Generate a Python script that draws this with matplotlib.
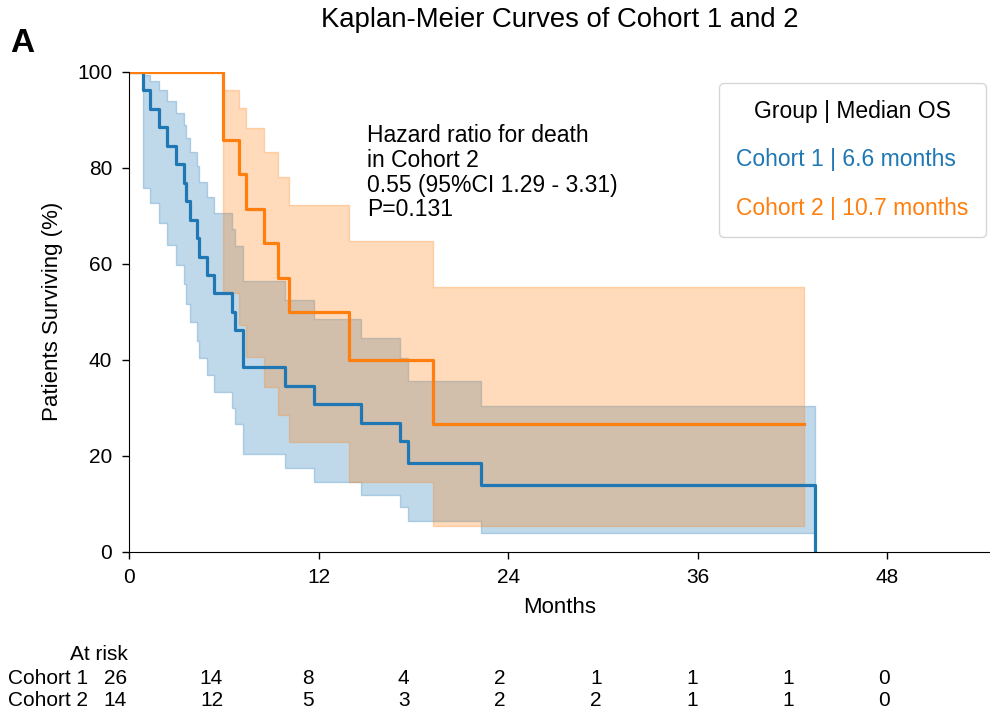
import matplotlib
matplotlib.use("Agg")
import matplotlib.pyplot as plt

plt.rcParams['font.family'] = ['Liberation Sans', 'DejaVu Sans']

# Kaplan-Meier steps (months, % surviving)
c1_t = [0, 0.9, 1.3, 1.9, 2.4, 3.0, 3.5, 3.6, 3.85, 4.3, 4.4, 4.95, 5.4,
        6.5, 6.7, 7.2, 9.9, 11.7, 14.7, 17.15, 17.65, 22.3, 43.4]
c1_s = [100, 96.2, 92.3, 88.5, 84.6, 80.8, 76.9, 73.1, 69.2, 65.4, 61.5, 57.7,
        53.8, 50.0, 46.2, 38.5, 34.6, 30.8, 26.9, 23.1, 18.5, 13.8, 0]
c1_hi = [100, 99.4, 98.0, 96.1, 93.9, 91.5, 88.9, 86.2, 83.3, 80.3, 77.1, 73.9,
         70.6, 67.2, 63.6, 56.3, 52.5, 48.5, 44.5, 40.3, 35.5, 30.4, 30.4]
c1_lo = [100, 75.7, 72.6, 68.4, 64.0, 59.8, 55.7, 51.7, 47.8, 44.0, 40.3, 36.8,
         33.3, 29.9, 26.6, 20.4, 17.5, 14.6, 11.9, 9.4, 6.4, 3.8, 3.8]

c2_t = [0, 5.93, 6.99, 7.41, 8.55, 9.46, 10.15, 13.95, 19.27, 42.7]
c2_s = [100, 85.7, 78.6, 71.4, 64.3, 57.1, 50.0, 40.0, 26.7, 26.7]
c2_hi = [100, 96.2, 92.5, 88.2, 83.3, 78.0, 72.2, 64.7, 55.1, 55.1]
c2_lo = [100, 53.9, 47.2, 40.6, 34.3, 28.4, 22.9, 14.5, 5.3, 5.3]

risk_times = [0, 6, 12, 18, 24, 30, 36, 42, 48]
risk_c1 = [26, 14, 8, 4, 2, 1, 1, 1, 0]
risk_c2 = [14, 12, 5, 3, 2, 2, 1, 1, 0]

labels = ['Cohort 1 | 6.6 months', 'Cohort 2 | 10.7 months']
blue, orange = '#1f77b4', '#ff7f0e'

fig = plt.figure(figsize=(9.9, 7.17), dpi=100)
ax = fig.add_axes([129 / 990, 1 - 551.7 / 717, 861 / 990, 480 / 717])

ax.fill_between(c1_t, c1_lo, c1_hi, step='post', color=blue, alpha=0.28, lw=1)
ax.fill_between(c2_t, c2_lo, c2_hi, step='post', color=orange, alpha=0.28, lw=1)
ax.plot(c1_t, c1_s, drawstyle='steps-post', color=blue, lw=2.3, label=labels[0])
ax.plot(c2_t, c2_s, drawstyle='steps-post', color=orange, lw=2.3, label=labels[1])

ax.set_xlim(0, 54.5)
ax.set_ylim(0, 100)
ax.set_xticks([0, 12, 24, 36, 48])
ax.set_yticks([0, 20, 40, 60, 80, 100])
ax.tick_params(labelsize=15, length=5, width=1)
ax.tick_params(axis='x', pad=7)
ax.tick_params(axis='y', pad=7)
ax.spines['top'].set_visible(False)
ax.spines['right'].set_visible(False)
ax.set_xlabel('Months', fontsize=16, labelpad=7)
ax.set_ylabel('Patients Surviving (%)', fontsize=16, labelpad=10)

ax.text(15.07, 89.1, 'Hazard ratio for death\nin Cohort 2\n0.55 (95%CI 1.29 - 3.31)\nP=0.131',
        fontsize=16.5, va='top', ha='left', linespacing=1.1)

leg = ax.legend(title='Group | Median OS', loc='upper right',
                bbox_to_anchor=(986 / 990, 1 - 83 / 717), bbox_transform=fig.transFigure,
                borderaxespad=0, fontsize=16.5, title_fontsize=16.5,
                handlelength=0, handletextpad=0, labelcolor='linecolor',
                labelspacing=1.1, borderpad=0.75)
for h in leg.legend_handles:
    h.set_visible(False)

fig.text(559.5 / 990, 1 - 20 / 717, 'Kaplan-Meier Curves of Cohort 1 and 2',
         fontsize=19.8, ha='center', va='center')
fig.text(10 / 990, 1 - 52 / 717, 'A', fontsize=24, fontweight='bold', ha='left', va='baseline')

# at-risk table on its own invisible axes
tab = fig.add_axes([129 / 990, 0, 861 / 990, 90 / 717])
tab.set_xlim(0.85, 54.6)
tab.set_ylim(0, 90)
tab.axis('off')
tab.text(128 / 990, 1 - 655 / 717, 'At risk', transform=fig.transFigure,
         fontsize=15, ha='right', va='center')
for name, row, yp in [('Cohort 1', risk_c1, 678), ('Cohort 2', risk_c2, 701)]:
    fig.text(88 / 990, 1 - yp / 717, name, fontsize=15, ha='right', va='center')
    for t, n in zip(risk_times, row):
        tab.text(t, 717 - yp, str(n), fontsize=15, ha='center', va='center')

fig.savefig('out.png', dpi=100)
